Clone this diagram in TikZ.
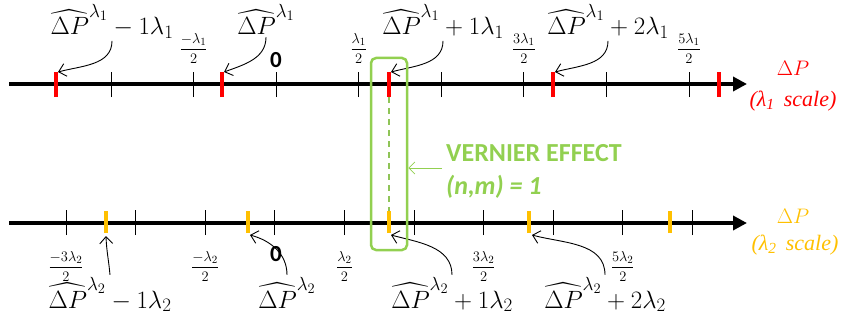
\RequirePackage{fix-cm}
\documentclass[tikz,border=0pt]{standalone}
\usepackage{amsmath}
\usepackage{fontspec}
\newfontfamily\calibrifont{Carlito}
\newfontfamily\timesfont{Liberation Serif}
\usetikzlibrary{arrows.meta, positioning}
\definecolor{vred}{RGB}{255,0,0}
\definecolor{vorange}{RGB}{255,192,0}
\definecolor{vgreen}{RGB}{146,208,80}
\DeclareMathSizes{25}{25}{19}{14.5}
\DeclareMathSizes{14.5}{14.5}{11}{8.5}

\begin{document}
\begin{tikzpicture}[x=1pt, y=1pt,
		% Define styles
		axisline/.style={line width=4.5pt, -{Triangle[length=14pt,width=14pt]}},
		scaletick/.style={draw=black, line width=0.9pt},
		redtick/.style={draw=vred, line width=3.5pt},
		orangetick/.style={draw=vorange, line width=3.5pt},
		peaklabel/.style={font=\fontsize{25}{27}\selectfont, inner xsep=0pt, inner ysep=2pt, anchor=base},
		fraclabel/.style={font=\fontsize{14.5}{16}\selectfont, inner sep=0pt},
		zerolabel/.style={font=\fontsize{23}{25}\selectfont\calibrifont\bfseries, inner sep=0pt},
		pointer/.style={-{Straight Barb[length=7pt,width=13pt]}, line width=0.9pt},
		axisname/.style={font=\fontsize{21}{24}\selectfont, anchor=base},
		scalename/.style={font=\fontsize{22}{24}\selectfont\timesfont\itshape},
		vernierbox/.style={draw=vgreen, line width=2.5pt, rounded corners=5pt, minimum width=36pt, minimum height=192pt},
		verniertext/.style={font=\fontsize{26}{28}\selectfont\calibrifont\bfseries, text=vgreen, anchor=west, inner sep=0pt},
		vernierarrow/.style={draw=vgreen, line width=0.8pt, -{Straight Barb[length=6pt,width=12pt]}}
		]
		\useasboundingbox (0,0) rectangle (843,322);
		
		% Lambda 1 scale
		\draw[axisline] (9,238) -- (747,238);
		\foreach \x in {111,193.6,276.1,358.7,441.3,523.9,606.4,689}
		\draw[scaletick] (\x,225) -- (\x,250);
		\foreach \x in {56,222,389,553,719}
		\draw[redtick] (\x,225) -- (\x,250);
		
		% Lambda 2 scale
		\draw[axisline] (9,99) -- (747,99);
		\foreach \k in {0,...,9}
		\draw[scaletick] ({66+69.6*\k},87) -- ({66+69.6*\k},112);
		\foreach \x in {106,248,389,529,670}
		\draw[orangetick] (\x,89) -- (\x,111);
		
		% Tick labels
		\node[zerolabel] (zero1) at (276,262) {0};
		\node[fraclabel, anchor=south] (fa1) at (193.6,258.5) {$\dfrac{-\lambda_1}{2}$};
		\node[fraclabel, anchor=south] (fa2) at (358.7,258.5) {$\dfrac{\lambda_1}{2}$};
		\node[fraclabel, anchor=south] (fa3) at (523.9,258.5) {$\dfrac{3\lambda_1}{2}$};
		\node[fraclabel, anchor=south] (fa4) at (689,258.5) {$\dfrac{5\lambda_1}{2}$};
		
		\node[zerolabel] (zero2) at (276,68) {0};
		\node[fraclabel, anchor=north] (fb1) at (66,71) {$\dfrac{-3\lambda_2}{2}$};
		\node[fraclabel, anchor=north] (fb2) at (205.2,71) {$\dfrac{-\lambda_2}{2}$};
		\node[fraclabel, anchor=north] (fb3) at (344.4,71) {$\dfrac{\lambda_2}{2}$};
		\node[fraclabel, anchor=north] (fb4) at (483.6,71) {$\dfrac{3\lambda_2}{2}$};
		\node[fraclabel, anchor=north] (fb5) at (622.8,71) {$\dfrac{5\lambda_2}{2}$};
		
		% Axis names
		\node[axisname, text=vred] (dp1) at (793,246) {$\Delta P$};
		\node[scalename, text=vred] (sc1) at (793,221) {(λ\textsubscript{1}\ \,scale)};
		\node[axisname, text=vorange] (dp2) at (793,99) {$\Delta P$};
		\node[scalename, text=vorange] (sc2) at (795,77) {(λ\textsubscript{2}\ \,scale)};
		
		% Peak labels
		\node[peaklabel] (top1) at (112,287) {$\widehat{\Delta P}^{\lambda_1} - 1\lambda_1$};
		\node[peaklabel] (top2) at (266,287) {$\widehat{\Delta P}^{\lambda_1}$};
		\node[peaklabel] (top3) at (443,287) {$\widehat{\Delta P}^{\lambda_1} + 1\lambda_1$};
		\node[peaklabel] (top4) at (608,287) {$\widehat{\Delta P}^{\lambda_1} + 2\lambda_1$};
		
		\node[peaklabel] (bot1) at (110,14) {$\widehat{\Delta P}^{\lambda_2} - 1\lambda_2$};
		\node[peaklabel] (bot2) at (287,14) {$\widehat{\Delta P}^{\lambda_2}$};
		\node[peaklabel] (bot3) at (452,14) {$\widehat{\Delta P}^{\lambda_2} + 1\lambda_2$};
		\node[peaklabel] (bot4) at (605,14) {$\widehat{\Delta P}^{\lambda_2} + 2\lambda_2$};
		
		% Pointer tips
		\coordinate (rtip1) at (58,250);
		\coordinate (rtip2) at (224,250);
		\coordinate (rtip3) at (391,250);
		\coordinate (rtip4) at (555,250);
		\coordinate (otip1) at (106,86);
		\coordinate (otip2) at (250,87);
		\coordinate (otip3) at (391,87);
		\coordinate (otip4) at (532,87);
		
		% Pointers
		\draw[pointer] (top1.south) to[out=-90, in=15] (rtip1);
		\draw[pointer] (top2.south) to[out=-90, in=20] (rtip2);
		\draw[pointer] (top3.south) to[out=-90, in=15] (rtip3);
		\draw[pointer] (top4.south) to[out=-90, in=15] (rtip4);
		\draw[pointer] (bot1.north) to[out=95, in=-88] (otip1);
		\draw[pointer] (bot2.north) to[out=90, in=-15] (otip2);
		\draw[pointer] (bot3.north) to[out=90, in=-15] (otip3);
		\draw[pointer] (bot4.north) to[out=90, in=-15] (otip4);
		
		% Vernier effect
		\coordinate (rbase) at (389,225);
		\coordinate (otop) at (389,111);
		\draw[vgreen!85!gray, line width=1.5pt, dash pattern=on 6pt off 5pt] (rbase) -- (otop);
		\node[vernierbox] (vbox) at (389,168) {};
		\node[verniertext] (vtext) at (446,169) {VERNIER EFFECT};
		\node[verniertext, font=\fontsize{26}{28}\selectfont\calibrifont\bfseries\itshape] (vnm) at (446,135) {(n,m) = 1};
		\coordinate (vfrom) at (442,154);
		\draw[vernierarrow] (vfrom) -- (vbox.east |- vfrom);
		
\end{tikzpicture}
\end{document}
